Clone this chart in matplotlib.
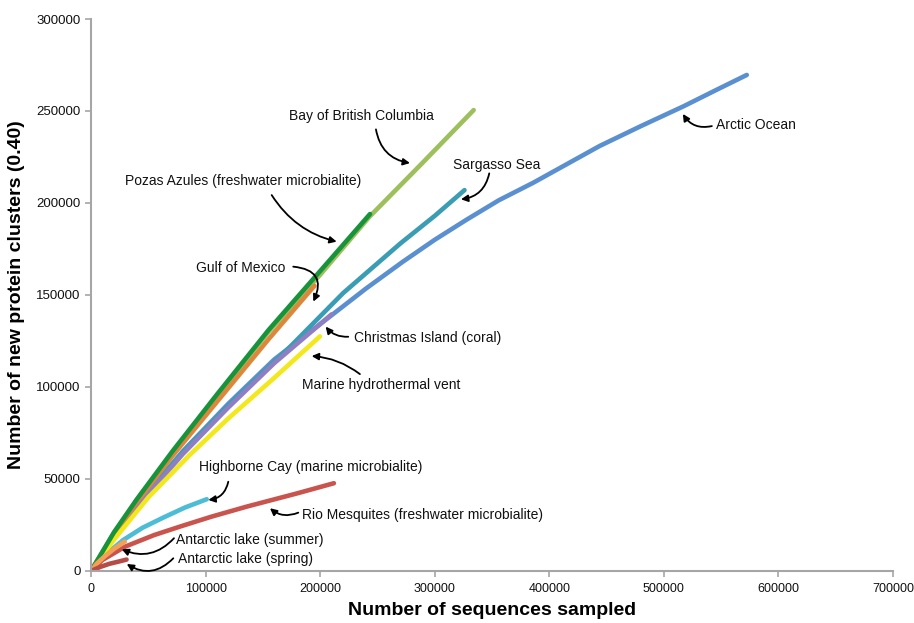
import matplotlib
matplotlib.use("Agg")
import matplotlib.pyplot as plt

plt.rcParams['font.family'] = ['Liberation Sans', 'DejaVu Sans']

# Data (x in sequences, y in clusters) (values in thousands)
arctic_x = [0, 20, 50, 80, 120, 160, 210, 240, 272, 300, 328, 356, 386, 415, 444, 480, 517, 545, 572.4]
arctic_y = [0, 19, 43, 65, 91, 115, 139, 153.5, 168, 180, 191, 201.5, 211, 221, 231, 241.8, 252.5, 261.2, 269.6]

sargasso_x = [0, 20, 40, 80, 120, 174, 220, 270, 300, 326]
sargasso_y = [0, 19, 36, 64.5, 90, 122, 151, 178, 193, 207]

christmas_x = [0, 20, 50, 80, 120, 160, 210]
christmas_y = [0, 18.5, 42, 63.5, 89, 113, 139.5]

bc_x = [0, 20, 40, 71, 110, 155, 200, 243, 289, 334]
bc_y = [0, 20.5, 38.5, 64, 95, 130, 161, 192.5, 221.6, 250.5]

gulf_x = [0, 20, 40, 71, 110, 155, 195]
gulf_y = [0, 20, 37.5, 62.5, 92, 126, 155]

highborne_x = [0, 12, 28, 45, 63, 82, 101]
highborne_y = [0, 8.5, 16.8, 23.5, 29, 34.5, 39]

rio_x = [0, 10, 30, 55, 78, 105, 136, 180, 212]
rio_y = [0, 6, 13.3, 19.5, 24.2, 29.5, 35, 42.2, 47.7]

vent_x = [0, 20, 50, 86, 120, 160, 199.8]
vent_y = [0, 17, 40, 63, 83, 105, 127.5]

pozas_x = [0, 20, 40, 71, 110, 155, 200, 243.5]
pozas_y = [0, 21, 39, 65, 96, 131, 163, 194]

summer_x = [0, 5, 12, 20, 29.5]
summer_y = [0, 4, 8, 12, 16]

spring_x = [0, 8, 16, 24, 31]
spring_y = [0, 2.2, 3.9, 5.1, 6.2]

series = [
    (arctic_x, arctic_y, '#5b90d0'),
    (sargasso_x, sargasso_y, '#3a9db4'),
    (christmas_x, christmas_y, '#8f7fc2'),
    (bc_x, bc_y, '#9dbf5c'),
    (gulf_x, gulf_y, '#dc873c'),
    (highborne_x, highborne_y, '#4dbcd6'),
    (rio_x, rio_y, '#c9544e'),
    (vent_x, vent_y, '#f3e81c'),
    (pozas_x, pozas_y, '#17933b'),
    (summer_x, summer_y, '#f4a055'),
    (spring_x, spring_y, '#b64c47'),
]

# label text, text anchor (left, center), arrow tail, arrow tip, arc rad (thousands)
labels = [
    ("Bay of British Columbia", (172.8, 247.3), (248.7, 240.0), (278.4, 221.7), 0.35),
    ("Arctic Ocean", (545.4, 242.4), (541.9, 241.8), (516.6, 248.4), -0.35),
    ("Sargasso Sea", (315.9, 220.7), (347.6, 216.1), (322.9, 202.0), -0.35),
    ("Pozas Azules (freshwater microbialite)", (29.7, 212.0), (157.7, 204.3), (214.4, 179.0), 0.2),
    ("Gulf of Mexico", (91.6, 164.7), (176.5, 165.4), (194.0, 146.4), -0.7),
    ("Christmas Island (coral)", (229.5, 126.6), (224.5, 127.3), (204.8, 132.8), -0.25),
    ("Marine hydrothermal vent", (184.1, 101.1), (234.7, 107.0), (192.6, 116.8), 0.15),
    ("Highborne Cay (marine microbialite)", (94.2, 56.5), (119.8, 48.5), (102.4, 38.6), -0.35),
    ("Rio Mesquites (freshwater microbialite)", (184.1, 30.4), (180.9, 31.7), (156.2, 34.1), -0.3),
    ("Antarctic lake (summer)", (74.2, 16.8), (72.4, 17.8), (26.8, 11.8), -0.35),
    ("Antarctic lake (spring)", (75.6, 6.4), (71.8, 6.9), (31.2, 3.8), -0.4),
]

xticks = [0, 100000, 200000, 300000, 400000, 500000, 600000, 700000]
yticks = [0, 50000, 100000, 150000, 200000, 250000, 300000]

fig = plt.figure(figsize=(9.14, 6.23), dpi=100)
ax = fig.add_axes([0.0996, 0.0835, 0.8774, 0.886])

for xs, ys, c in series:
    ax.plot([v * 1000 for v in xs], [v * 1000 for v in ys], color=c, lw=3.3,
            solid_capstyle='round', solid_joinstyle='round')

for text, tpos, tail, tip, rad in labels:
    ax.text(tpos[0] * 1000, tpos[1] * 1000, text, fontsize=10, ha='left', va='center', color='#111111')
    ax.annotate('', xy=(tip[0] * 1000, tip[1] * 1000), xytext=(tail[0] * 1000, tail[1] * 1000),
                arrowprops=dict(arrowstyle='-|>', color='black', lw=1.3, mutation_scale=10,
                                shrinkA=0, shrinkB=0,
                                connectionstyle=f'arc3,rad={rad}'))

ax.set_xlim(0, 700000)
ax.set_ylim(0, 300000)
ax.set_xticks(xticks)
ax.set_yticks(yticks)
ax.set_xticklabels([str(v) for v in xticks], fontsize=9)
ax.set_yticklabels([str(v) for v in yticks], fontsize=9.5)
for s in ['top', 'right']:
    ax.spines[s].set_visible(False)
for s in ['left', 'bottom']:
    ax.spines[s].set_color('#a6a6a6')
    ax.spines[s].set_linewidth(1.5)
ax.tick_params(axis='both', colors='#a6a6a6', labelcolor='#111111', length=4, width=1.2)
ax.tick_params(axis='x', pad=5)
ax.set_xlabel('Number of sequences sampled', fontsize=14, fontweight='bold', labelpad=5)
ax.set_ylabel('Number of new protein clusters (0.40)', fontsize=14, fontweight='bold', labelpad=8)

fig.savefig('out.png', dpi=100)
